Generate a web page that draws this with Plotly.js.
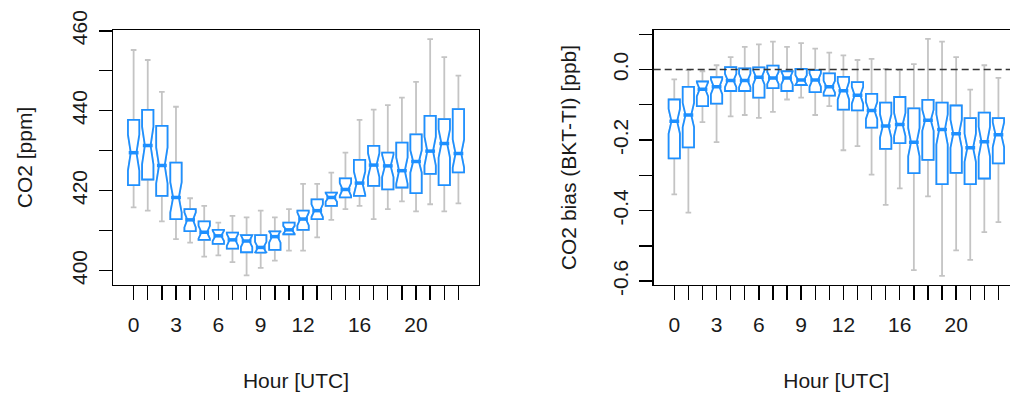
<!DOCTYPE html>
<html>
<head>
<meta charset="utf-8">
<script src="https://cdn.plot.ly/plotly-3.0.1.min.js"></script>
<style>
html,body{margin:0;padding:0;overflow:hidden;background:#fff;}
#chart{width:1030px;height:397px;}
</style>
</head>
<body>
<div id="chart"></div>
<script>
// ---- data ----
const hours = [0,1,2,3,4,5,6,7,8,9,10,11,12,13,14,15,16,17,18,19,20,21,22,23];
const hourTickLabels = ["0","","","3","","","6","","","9","","","12","","","","16","","","","20","","",""];

// Left panel: CO2 [ppm]
const co2Lower  = [415.8,415.0,412.3,407.9,407.0,403.5,403.8,402.1,398.8,400.7,402.5,405.0,405.0,408.3,412.7,415.4,416.2,412.9,415.4,417.3,414.8,416.6,414.8,416.8];
const co2Q1     = [421.4,422.8,418.7,412.9,409.9,407.7,406.7,405.5,404.6,404.5,405.2,409.1,410.2,412.9,416.2,418.3,418.7,421.2,420.3,420.8,419.4,424.2,421.4,424.6];
const co2Median = [429.5,431.3,426.3,418.3,412.7,409.6,408.7,407.7,407.4,405.8,408.5,410.2,412.9,415.0,418.3,420.3,421.9,426.4,426.2,425.0,427.3,429.9,431.8,429.3];
const co2Q3     = [437.7,440.2,436.2,427.0,415.4,412.3,410.2,409.5,408.9,408.9,409.8,412.0,415.0,417.8,419.5,423.1,427.7,431.2,429.5,432.0,434.1,438.7,437.9,440.4];
const co2Upper  = [455.2,452.7,444.7,441.0,418.1,416.2,412.0,413.7,413.3,415.0,413.3,415.4,421.7,421.7,424.5,429.5,437.7,440.3,441.4,443.3,447.2,457.9,453.4,448.8];
const co2Notch  = [4.5,4.7,4.5,3.8,1.9,1.6,1.3,1.5,1.5,1.4,1.5,1.0,1.6,1.6,1.1,1.6,2.9,3.0,2.8,3.3,2.8,3.6,3.5,3.5];
const co2TickVals = [400,410,420,430,440,450,460];
const co2TickText = ["400","","420","","440","","460"];

// Right panel: CO2 bias (BKT-TI) [ppb]
const biasLower  = [-0.354,-0.406,-0.149,-0.206,-0.133,-0.129,-0.137,-0.120,-0.085,-0.080,-0.129,-0.104,-0.229,-0.217,-0.298,-0.384,-0.337,-0.569,-0.360,-0.585,-0.513,-0.540,-0.461,-0.433];
const biasQ1     = [-0.252,-0.221,-0.104,-0.097,-0.061,-0.061,-0.080,-0.053,-0.061,-0.044,-0.064,-0.074,-0.114,-0.116,-0.165,-0.225,-0.209,-0.294,-0.256,-0.325,-0.293,-0.325,-0.309,-0.266];
const biasMedian = [-0.147,-0.129,-0.056,-0.049,-0.031,-0.031,-0.022,-0.024,-0.024,-0.030,-0.030,-0.049,-0.060,-0.073,-0.116,-0.160,-0.156,-0.206,-0.144,-0.170,-0.182,-0.222,-0.205,-0.185];
const biasQ3     = [-0.085,-0.049,-0.034,-0.022,0.007,0.003,0.006,0.011,-0.005,0.002,-0.002,-0.011,-0.021,-0.036,-0.069,-0.094,-0.078,-0.110,-0.086,-0.094,-0.102,-0.138,-0.122,-0.138];
const biasUpper  = [-0.028,-0.002,-0.005,0.012,0.035,0.064,0.071,0.079,0.064,0.075,0.059,0.048,0.040,0.027,0.030,0.002,-0.002,0.015,0.087,0.079,0.035,-0.057,0.012,-0.024];
const biasNotch  = [0.035,0.034,0.020,0.021,0.019,0.019,0.020,0.017,0.018,0.014,0.019,0.017,0.025,0.024,0.024,0.033,0.033,0.040,0.030,0.043,0.040,0.040,0.042,0.035];
const biasTickVals = [0.1,0.0,-0.1,-0.2,-0.3,-0.4,-0.5,-0.6];
const biasTickText = ["","0.0","","-0.2","","-0.4","","-0.6"];

// ---- styling ----
const BLUE = '#1E90FF';
const GREY = '#C4C4C4';
const FONT = 'Liberation Sans, Arial, sans-serif';
const TXT = '#1a1a1a';

function panel(xa, ya, lower, q1, med, q3, upper, notch) {
  const common = {
    type: 'box', x: hours, q1: q1, median: med, q3: q3, notchspan: notch,
    notched: true, notchwidth: 0.25, width: 0.8, boxpoints: false,
    xaxis: xa, yaxis: ya, hoverinfo: 'skip', showlegend: false
  };
  const whiskers = Object.assign({}, common, {
    lowerfence: lower, upperfence: upper, whiskerwidth: 0.5,
    line: {color: GREY, width: 1.8}, fillcolor: 'rgba(255,255,255,0)'
  });
  const boxes = Object.assign({}, common, {
    lowerfence: q1, upperfence: q3, whiskerwidth: 0,
    line: {color: BLUE, width: 1.8}, fillcolor: '#ffffff'
  });
  const medians = {
    type: 'scatter', mode: 'markers', x: hours, y: med, xaxis: xa, yaxis: ya,
    marker: {symbol: 'line-ew', size: 7, color: BLUE, line: {color: BLUE, width: 3.5}},
    hoverinfo: 'skip', showlegend: false
  };
  return [whiskers, boxes, medians];
}

const data = [].concat(
  panel('x', 'y', co2Lower, co2Q1, co2Median, co2Q3, co2Upper, co2Notch),
  panel('x2', 'y2', biasLower, biasQ1, biasMedian, biasQ3, biasUpper, biasNotch)
);

function xAxis(domain, anchor) {
  return {
    domain: domain, anchor: anchor, range: [-1.46, 24.46],
    tickmode: 'array', tickvals: hours, ticktext: hourTickLabels,
    ticks: 'outside', ticklen: 14, tickwidth: 1.4, tickcolor: '#000',
    showline: true, mirror: true, linecolor: '#000', linewidth: 1.4,
    showgrid: false, zeroline: false, automargin: false,
    ticklabelstandoff: 6,
    tickfont: {family: FONT, size: 21, color: TXT},
    title: {text: 'Hour [UTC]', font: {family: FONT, size: 21, color: TXT}, standoff: 38}
  };
}
function yAxis(range, tv, tt, title, anchor, standoff) {
  return {
    anchor: anchor, domain: [0, 1], range: range,
    tickmode: 'array', tickvals: tv, ticktext: tt, tickangle: -90,
    ticks: 'outside', ticklen: 13, tickwidth: 1.4, tickcolor: '#000',
    showline: true, mirror: true, linecolor: '#000', linewidth: 1.4,
    showgrid: false, zeroline: false, automargin: false,
    ticklabelstandoff: 3,
    tickfont: {family: FONT, size: 21, color: TXT},
    title: {text: title, font: {family: FONT, size: 21, color: TXT}, standoff: standoff}
  };
}

const layout = {
  width: 1030, height: 397,
  margin: {l: 113, r: 11, t: 30, b: 112},
  paper_bgcolor: '#fff', plot_bgcolor: '#fff',
  boxmode: 'overlay',
  font: {family: FONT, color: TXT},
  xaxis: xAxis([0, 0.404], 'y'),
  yaxis: yAxis([396.4, 460.2], co2TickVals, co2TickText, 'CO2 [ppm]', 'x', 30),
  xaxis2: xAxis([0.5968, 1], 'y2'),
  yaxis2: yAxis([-0.611, 0.112], biasTickVals, biasTickText, 'CO2 bias (BKT-TI) [ppb]', 'x2', 26),
  shapes: [{
    type: 'line', xref: 'x2 domain', x0: 0, x1: 1, yref: 'y2', y0: 0, y1: 0,
    line: {color: '#333', width: 1.4, dash: '7px,4px'}, layer: 'above'
  }]
};

Plotly.newPlot('chart', data, layout, {displayModeBar: false, staticPlot: true});
</script>
</body>
</html>
